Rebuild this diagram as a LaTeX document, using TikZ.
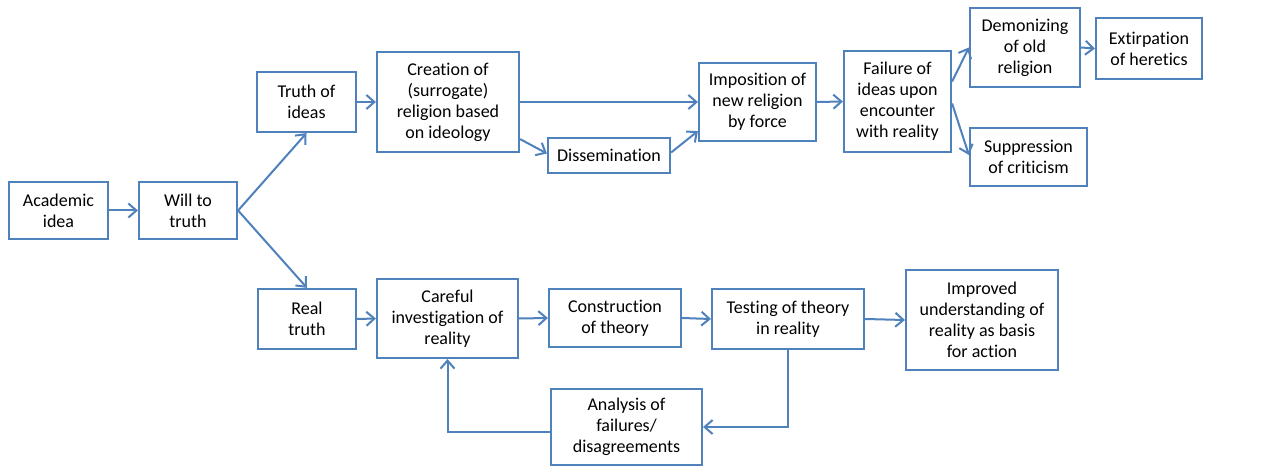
\documentclass[tikz,border=0pt]{standalone}
\usepackage{fontspec}
\setmainfont[Ligatures=NoCommon]{Carlito}
\usetikzlibrary{arrows.meta}
\definecolor{bl}{HTML}{4F81BD}
\begin{document}
\begin{tikzpicture}[x=1pt,y=-1pt,
  box/.style={draw=bl,line width=2.2pt,fill=white,align=center,inner sep=1pt,
    font=\fontsize{18}{21}\selectfont},
  conn/.style={draw=bl,line width=2pt,-{Straight Barb[length=8pt,width=14pt,line width=2pt]}}]
\useasboundingbox[fill=white] (0,0) rectangle (1262,468);
% top / left
\node[box,minimum width=99pt,minimum height=57pt] (acad) at (58.5,210.5) {Academic\\idea};
\node[box,minimum width=98pt,minimum height=57pt] (will) at (188,210.5) {Will to\\truth};
\node[box,minimum width=99pt,minimum height=60pt] (toi) at (306.5,102) {Truth of\\ideas};
\node[box,minimum width=142pt,minimum height=100pt] (crea) at (448,102) {Creation of\\(surrogate)\\religion based\\on ideology};
\node[box,minimum width=122pt,minimum height=35pt] (diss) at (609,155.5) {Dissemination};
\node[box,minimum width=117pt,minimum height=78pt] (imp) at (757.5,102) {Imposition of\\new religion\\by force};
\node[box,minimum width=107pt,minimum height=101pt] (fail) at (897.5,101.5) {Failure of\\ideas upon\\encounter\\with reality};
\node[box,minimum width=110pt,minimum height=79pt] (demon) at (1025,47.5) {Demonizing\\of old\\religion};
\node[box,minimum width=106pt,minimum height=61pt] (ext) at (1149,48.5) {Extirpation\\of heretics};
\node[box,minimum width=117pt,minimum height=58pt] (supp) at (1028.5,157) {Suppression\\of criticism};
% bottom
\node[box,minimum width=98pt,minimum height=60pt] (real) at (307,319) {Real\\truth};
\node[box,minimum width=141pt,minimum height=79pt] (care) at (447.5,318.5) {Careful\\investigation of\\reality};
\node[box,minimum width=132pt,minimum height=58pt] (cons) at (615,318) {Construction\\of theory};
\node[box,minimum width=152pt,minimum height=60pt] (test) at (788,319) {Testing of theory\\in reality};
\node[box,minimum width=152pt,minimum height=100pt] (impr) at (982,320) {Improved\\understanding of\\reality as basis\\for action};
\node[box,minimum width=151pt,minimum height=76pt] (anal) at (626.5,427) {Analysis of\\failures/\\disagreements};
% connectors
\draw[conn] (acad.east) -- (will.west);
\draw[conn] (will.east) -- (toi.south);
\draw[conn] (will.east) -- (real.north);
\draw[conn] (toi.east) -- (crea.west);
\draw[conn] (crea.east) -- (imp.west);
\draw[conn] ([yshift=14pt]crea.south east) -- ([yshift=2pt]diss.west);
\draw[conn] ([yshift=3pt]diss.east) -- ([yshift=11pt]imp.south west);
\draw[conn] (imp.east) -- (fail.west);
\draw[conn] ([yshift=20pt]fail.east) -- (demon.west);
\draw[conn] ([yshift=-2pt]fail.east) -- ([yshift=2pt]supp.west);
\draw[conn] (demon.east) -- (ext.west);
\draw[conn] (real.east) -- (care.west);
\draw[conn] (care.east) -- (cons.west);
\draw[conn] (cons.east) -- (test.west);
\draw[conn] (test.east) -- (impr.west);
\draw[conn] (test.south) |- (anal.east);
\draw[conn] ([yshift=-5pt]anal.west) -| (care.south);
\end{tikzpicture}
\end{document}
